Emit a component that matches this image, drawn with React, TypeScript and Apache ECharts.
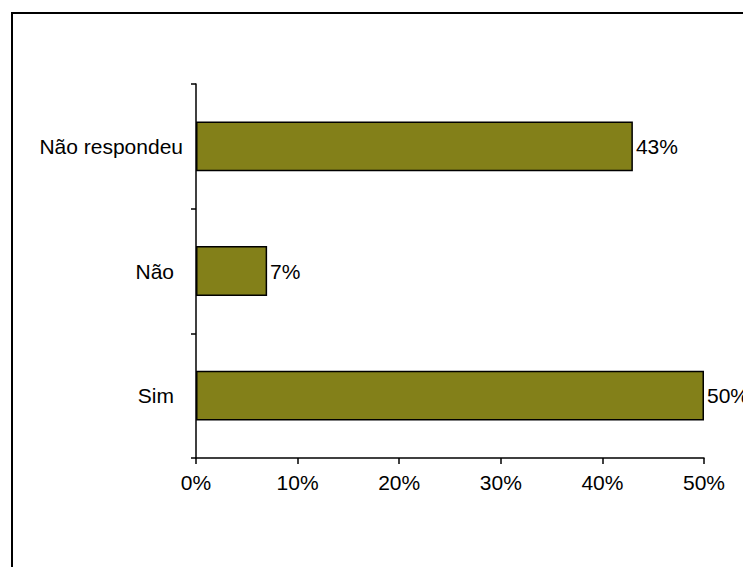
import React, { useEffect, useRef } from "react";
import * as echarts from "echarts";

const categories = ["Sim", "Não", "Não respondeu"];
const values = [50, 7, 43];
const xTicks = [0, 10, 20, 30, 40, 50];

export default function App() {
  const ref = useRef<HTMLDivElement>(null);
  useEffect(() => {
    if (!ref.current) return;
    const chart = echarts.init(ref.current, null, { renderer: "svg" });
    const font = "'Liberation Sans', Arial, sans-serif";
    chart.setOption({
      animation: false,
      backgroundColor: "#ffffff",
      textStyle: { fontFamily: font },
      graphic: [
        {
          type: "rect",
          shape: { x: 12, y: 13, width: 800, height: 600 },
          style: { fill: "none", stroke: "#000000", lineWidth: 2 },
          z: 100,
        },
      ],
      grid: { left: 196, right: 39, top: 84, bottom: 109, containLabel: false },
      xAxis: {
        type: "value",
        min: xTicks[0],
        max: xTicks[xTicks.length - 1],
        interval: 10,
        splitLine: { show: false },
        axisLine: { show: true, lineStyle: { color: "#000", width: 1.5 } },
        axisTick: { show: true, length: 6, lineStyle: { color: "#000", width: 1.5 } },
        axisLabel: {
          color: "#000",
          fontSize: 21,
          fontFamily: font,
          margin: 14,
          formatter: (v: number) => `${v}%`,
        },
      },
      yAxis: {
        type: "category",
        data: categories,
        axisLine: { show: true, lineStyle: { color: "#000", width: 1.5 } },
        axisTick: { show: true, length: 5, lineStyle: { color: "#000", width: 1.5 } },
        axisLabel: {
          color: "#000",
          fontSize: 21,
          fontFamily: font,
          margin: 13,
          formatter: (v: string) => (v === "Não respondeu" ? v : `{p|${v}}`),
          rich: {
            p: { fontSize: 21, fontFamily: font, color: "#000", padding: [0, 9, 0, 0] },
          },
        },
      },
      series: [
        {
          type: "bar",
          data: values,
          barWidth: "40%",
          itemStyle: { color: "#838019", borderColor: "#000", borderWidth: 1.5 },
          label: {
            show: true,
            position: "right",
            distance: 3,
            color: "#000",
            fontSize: 21,
            fontFamily: font,
            formatter: (p: any) => `${p.value}%`,
          },
        },
      ],
    });
    return () => chart.dispose();
  }, []);
  return (
    <div
      ref={ref}
      style={{ position: "fixed", left: 0, top: 0, width: 743, height: 567 }}
    />
  );
}
